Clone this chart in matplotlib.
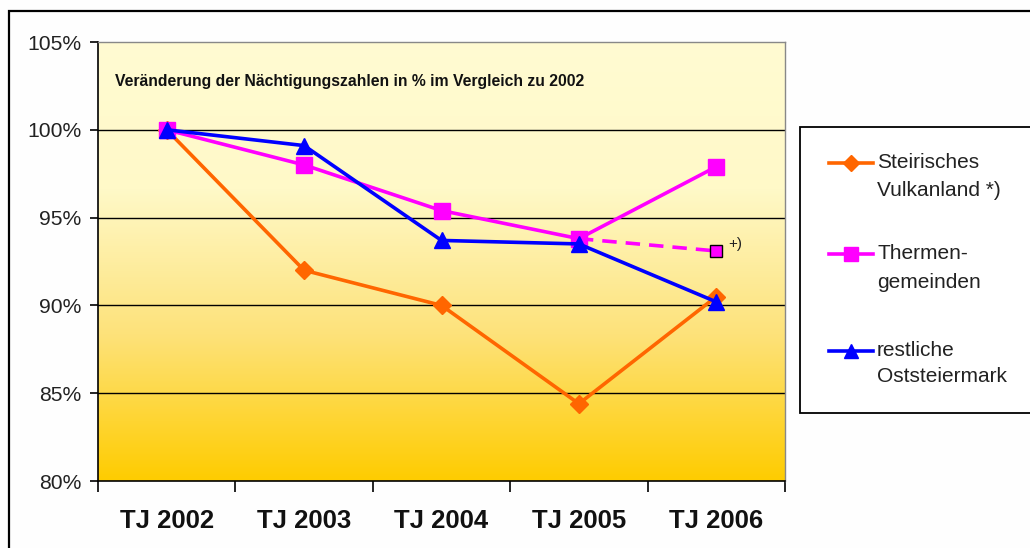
import numpy as np
import matplotlib
matplotlib.use("Agg")
import matplotlib.pyplot as plt
from matplotlib.colors import LinearSegmentedColormap
from matplotlib.lines import Line2D
from matplotlib.patches import Rectangle
from matplotlib.ticker import FuncFormatter, FixedLocator

plt.rcParams['font.family'] = ['Liberation Sans', 'DejaVu Sans']

categories = ["TJ 2002", "TJ 2003", "TJ 2004", "TJ 2005", "TJ 2006"]
vulkanland = [100.0, 92.0, 90.0, 84.4, 90.5]
thermen = [100.0, 98.0, 95.4, 93.8, 97.9]
thermen_alt_cats = ["TJ 2005", "TJ 2006"]
thermen_alt = [93.8, 93.1]
restliche = [100.0, 99.1, 93.7, 93.5, 90.2]
labels = [["Steirisches", "Vulkanland *)"], ["Thermen-", "gemeinden"], ["restliche", "Oststeiermark"]]
title = "Veränderung der Nächtigungszahlen in % im Vergleich zu 2002"

W, H = 1030, 548
fig = plt.figure(figsize=(W / 100, H / 100), dpi=100)
fig.patch.set_facecolor("#fefefe")

def fx(x):
    return x / W

def fy(y):
    return 1 - y / H

# outer frame
fig.patches.append(Rectangle((fx(9), fy(600)), fx(1100), fy(11) - fy(600), transform=fig.transFigure,
                             fill=False, edgecolor="black", linewidth=1.6, zorder=0))

ax = fig.add_axes([fx(98), fy(481), fx(785) - fx(98), fy(42) - fy(481)])
x = np.arange(len(categories))
xmap = {c: i for i, c in enumerate(categories)}

# gradient background
cmap = LinearSegmentedColormap.from_list("g", ["#ffcc00", "#fde27a", "#fff9c8", "#fffbd2"], N=256)
grad = np.linspace(0, 1, 256).reshape(-1, 1)
ax.imshow(grad, extent=(-0.5, 4.5, 80, 105), origin="lower", aspect="auto", cmap=cmap, zorder=0)

ax.set_xlim(-0.5, 4.5)
ax.set_ylim(80, 105)
for yv in [85, 90, 95, 100]:
    ax.axhline(yv, color="black", linewidth=1.0, zorder=1)

LW = 2.6
ax.plot(x, vulkanland, color="#ff6600", linewidth=LW, marker="D", markersize=9, zorder=3)
ax.plot(x, thermen, color="#ff00ff", linewidth=LW, marker="s", markersize=11, zorder=4)
ax.plot([xmap[c] for c in thermen_alt_cats], thermen_alt, color="#ff00ff", linewidth=LW,
        linestyle=(0, (4, 2.5)), zorder=4)
ax.plot([xmap[thermen_alt_cats[-1]]], [thermen_alt[-1]], linestyle="none", marker="s", markersize=9,
        markerfacecolor="#ff00ff", markeredgecolor="black", markeredgewidth=1.0, zorder=6)
ax.text(xmap[thermen_alt_cats[-1]] + 0.09, thermen_alt[-1] + 0.4, "+)", fontsize=11, color="#222222",
        ha="left", va="center", zorder=6)
ax.plot(x, restliche, color="#0000ff", linewidth=LW, marker="^", markersize=11, zorder=5)

# axes styling
for s in ["top", "right"]:
    ax.spines[s].set_color("#888888")
    ax.spines[s].set_linewidth(1.0)
for s in ["left", "bottom"]:
    ax.spines[s].set_color("black")
    ax.spines[s].set_linewidth(1.2)

ax.set_yticks([80, 85, 90, 95, 100, 105])
ax.yaxis.set_major_formatter(FuncFormatter(lambda v, p: f"{v:.0f}%"))
ax.tick_params(axis="y", direction="out", length=6, width=1.2, labelsize=15.2, labelcolor="#222222", pad=6)

ax.xaxis.set_major_locator(FixedLocator(np.arange(-0.5, 5, 1.0)))
ax.xaxis.set_minor_locator(FixedLocator(x))
ax.set_xticklabels([""] * 6)
ax.set_xticklabels(categories, minor=True)
ax.tick_params(axis="x", which="major", direction="out", length=8, width=1.2)
ax.tick_params(axis="x", which="minor", length=0, pad=20, labelsize=18.5)
for t in ax.get_xticklabels(minor=True):
    t.set_fontweight("bold")
    t.set_color("#111111")

ax.text(0.025, 0.909, title, transform=ax.transAxes, fontsize=11.3, fontweight="bold",
        color="#111111", ha="left", va="center")

# legend box
fig.patches.append(Rectangle((fx(800), fy(413)), fx(1100) - fx(800), fy(127) - fy(413),
                             transform=fig.transFigure, facecolor="white", edgecolor="black",
                             linewidth=1.3, zorder=1))
colors = ["#ff6600", "#ff00ff", "#0000ff"]
markers = ["D", "s", "^"]
msizes = [8, 10, 10]
rows = [(163, 190), (254, 282), (351, 376)]
for c, m, ms, (y1, y2), lab in zip(colors, markers, msizes, rows, labels):
    fig.lines.append(Line2D([fx(829), fx(873)], [fy(y1), fy(y1)], transform=fig.transFigure,
                            color=c, linewidth=LW, zorder=3))
    fig.lines.append(Line2D([fx(851)], [fy(y1)], transform=fig.transFigure, color=c,
                            marker=m, markersize=ms, linestyle="none", zorder=3))
    fig.text(fx(877), fy(y1), lab[0], fontsize=15, color="#222222", ha="left", va="center", zorder=4)
    fig.text(fx(877), fy(y2), lab[1], fontsize=15, color="#222222", ha="left", va="center", zorder=4)

fig.savefig("out.png", dpi=100, facecolor=fig.get_facecolor())
